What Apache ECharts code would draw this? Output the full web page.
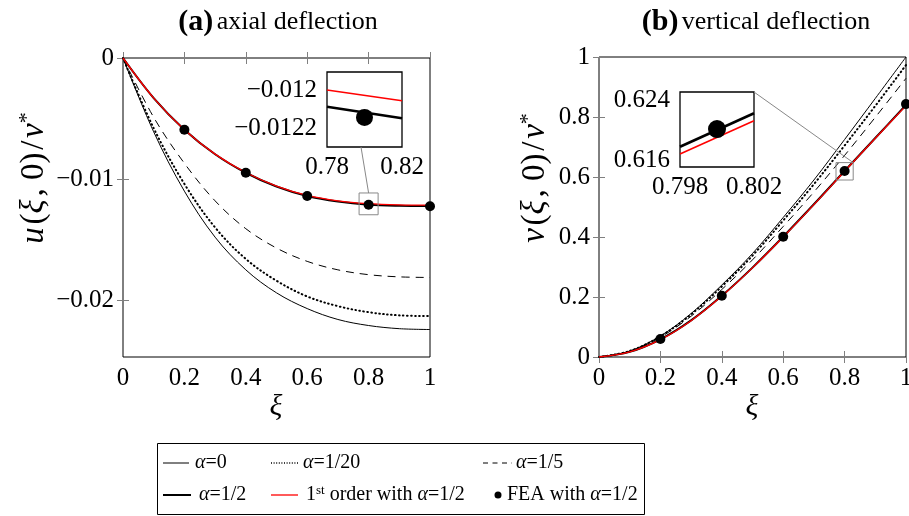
<!DOCTYPE html>
<html>
<head>
<meta charset="utf-8">
<script src="https://cdn.jsdelivr.net/npm/echarts@6/dist/echarts.min.js"></script>
<style>
    html, body { margin: 0; padding: 0; background: #fff; }
    #main { width: 909px; height: 516px; }
</style>
</head>
<body>
<div id="main"></div>
<script>
    // values
    const xiList = [0, 0.1, 0.2, 0.3, 0.4, 0.5, 0.6, 0.7, 0.8, 0.9, 1];

    // (a) axial deflection u(xi,0)/v*
    const uAlpha0  = [0, -0.0061, -0.0110, -0.0148, -0.0175, -0.0194, -0.0207, -0.0216, -0.0221, -0.02236, -0.02243];
    const uAlpha20 = [0, -0.0058, -0.0104, -0.0140, -0.0166, -0.0184, -0.0197, -0.0205, -0.0210, -0.02126, -0.02132];
    const uAlpha5  = [0, -0.0049, -0.0087, -0.0118, -0.0141, -0.0157, -0.0168, -0.0175, -0.0179, -0.01808, -0.01813];
    const uAlpha2  = [0, -0.00331, -0.00592, -0.00795, -0.00948, -0.01062, -0.0114, -0.01186, -0.01212, -0.01221, -0.01223];
    const uFirst   = [0, -0.00331, -0.00592, -0.00794, -0.00946, -0.01058, -0.01135, -0.0118, -0.01203, -0.01213, -0.01216];

    // (b) vertical deflection v(xi,0)/v*
    const vAlpha0  = [0, 0.020, 0.070, 0.145, 0.240, 0.345, 0.465, 0.590, 0.725, 0.862, 1.000];
    const vAlpha20 = [0, 0.020, 0.069, 0.142, 0.235, 0.338, 0.455, 0.576, 0.705, 0.837, 0.973];
    const vAlpha5  = [0, 0.019, 0.066, 0.136, 0.225, 0.324, 0.435, 0.550, 0.672, 0.799, 0.929];
    const vAlpha2  = [0, 0.017, 0.059, 0.122, 0.204, 0.298, 0.401, 0.509, 0.620, 0.730, 0.840];
    const vFirst   = [0, 0.017, 0.058, 0.121, 0.203, 0.297, 0.400, 0.508, 0.619, 0.729, 0.838];

    // FEA points
    const feaXi = [0.2, 0.4, 0.6, 0.8, 1];
    const feaU  = [-0.00592, -0.00948, -0.0114, -0.01213, -0.01225];
    const feaV  = [0.06, 0.204, 0.401, 0.62, 0.843];

    // zoom insets
    const zoomUXi     = [0.78, 0.82];
    const zoomUAlpha2 = [-0.012088, -0.012149];
    const zoomUFirst  = [-0.012, -0.012056];
    const zoomUFeaXi  = [0.8];
    const zoomUFea    = [-0.012144];
    const zoomVXi     = [0.798, 0.802];
    const zoomVAlpha2 = [0.61779, 0.6223];
    const zoomVFirst  = [0.61681, 0.6213];
    const zoomVFeaXi  = [0.8];
    const zoomVFea    = [0.62018];

    // tick values
    const uTicks      = [0, -0.01, -0.02];
    const zoomUTicks  = [-0.012, -0.0122];
    const zoomUXTicks = [0.78, 0.82];
    const zoomVTicks  = [0.616, 0.624];
    const zoomVXTicks = [0.798, 0.802];

    const serif = 'Liberation Serif';
    const tickColor = '#808080';

    function pairs(xs, ys) {
        return xs.map(function (x, i) { return [x, ys[i]]; });
    }
    function numLabel(v) {
        let s = String(+(+v).toFixed(6));
        return v < 0 ? '\u2212' + s.replace('-', '') : s;
    }

    function makeAxis(opt) {
        let ax = {
            type: 'value',
            gridIndex: opt.grid,
            position: opt.position,
            min: opt.min,
            max: opt.max,
            axisLine: { show: false },
            axisTick: {
                show: opt.tick !== false,
                inside: true,
                length: 6,
                lineStyle: { color: tickColor, width: 1 }
            },
            axisLabel: {
                show: !!opt.label,
                margin: opt.margin || 9,
                color: '#000',
                fontFamily: serif,
                fontSize: 25,
                showMinLabel: true,
                showMaxLabel: true,
                hideOverlap: false,
                formatter: numLabel
            },
            splitLine: { show: false }
        };
        if (opt.interval) ax.interval = opt.interval;
        if (opt.ticks) {
            ax.axisTick.customValues = opt.ticks;
            ax.axisLabel.customValues = opt.ticks;
        }
        return ax;
    }

    function lineSeries(name, xAxisIndex, yAxisIndex, xs, ys, style) {
        return {
            name: name,
            type: 'line',
            xAxisIndex: xAxisIndex,
            yAxisIndex: yAxisIndex,
            data: pairs(xs, ys),
            showSymbol: false,
            smooth: style.smooth === undefined ? 0.35 : style.smooth,
            animation: false,
            clip: true,
            lineStyle: {
                color: style.color || '#000',
                width: style.width || 1,
                type: style.type || 'solid',
                cap: style.cap || 'butt'
            },
            z: style.z || 2
        };
    }
    function dotSeries(name, xAxisIndex, yAxisIndex, xs, ys, size) {
        return {
            name: name,
            type: 'scatter',
            xAxisIndex: xAxisIndex,
            yAxisIndex: yAxisIndex,
            data: pairs(xs, ys),
            symbol: 'circle',
            symbolSize: size,
            itemStyle: { color: '#000', opacity: 1 },
            animation: false,
            z: 4
        };
    }

    const gridStyle = { show: true, borderColor: '#000', borderWidth: 1, containLabel: false, outerBoundsMode: 'none' };
    const grids = [
        Object.assign({ left: 123, top: 58, width: 307, height: 299, backgroundColor: 'transparent' }, gridStyle),
        Object.assign({ left: 599, top: 57, width: 307, height: 300, backgroundColor: 'transparent' }, gridStyle),
        Object.assign({ left: 327, top: 72, width: 75, height: 75, backgroundColor: '#fff', z: 3 }, gridStyle, { borderWidth: 1.3 }),
        Object.assign({ left: 680, top: 92, width: 74, height: 75, backgroundColor: '#fff', z: 3 }, gridStyle, { borderWidth: 1.3 })
    ];

    const xAxes = [
        makeAxis({ grid: 0, position: 'bottom', min: 0, max: 1, interval: 0.2, label: true }),
        makeAxis({ grid: 0, position: 'top', min: 0, max: 1, interval: 0.2 }),
        makeAxis({ grid: 1, position: 'bottom', min: 0, max: 1, interval: 0.2, label: true }),
        makeAxis({ grid: 1, position: 'top', min: 0, max: 1, interval: 0.2 }),
        makeAxis({ grid: 2, position: 'bottom', min: 0.78, max: 0.82, ticks: zoomUXTicks, label: true, tick: false, margin: 8 }),
        makeAxis({ grid: 3, position: 'bottom', min: 0.798, max: 0.802, ticks: zoomVXTicks, label: true, tick: false, margin: 8 })
    ];
    const yAxes = [
        makeAxis({ grid: 0, position: 'left', min: -0.0247, max: 0, ticks: uTicks, label: true }),
        makeAxis({ grid: 0, position: 'right', min: -0.0247, max: 0, ticks: uTicks }),
        makeAxis({ grid: 1, position: 'left', min: 0, max: 1, interval: 0.2, label: true }),
        makeAxis({ grid: 1, position: 'right', min: 0, max: 1, interval: 0.2 }),
        makeAxis({ grid: 2, position: 'left', min: -0.0123, max: -0.011905, ticks: zoomUTicks, label: true, margin: 10 }),
        makeAxis({ grid: 2, position: 'right', min: -0.0123, max: -0.011905, ticks: zoomUTicks }),
        makeAxis({ grid: 3, position: 'left', min: 0.61506, max: 0.62517, ticks: zoomVTicks, label: true, margin: 10 }),
        makeAxis({ grid: 3, position: 'right', min: 0.61506, max: 0.62517, ticks: zoomVTicks })
    ];

    const dotted = [0.6, 3.4];
    const dashed = [8, 6];
    const series = [
        // (a)
        lineSeries('a0', 0, 0, xiList, uAlpha0, { width: 1 }),
        lineSeries('a20', 0, 0, xiList, uAlpha20, { width: 2, type: dotted, cap: 'round' }),
        lineSeries('a5', 0, 0, xiList, uAlpha5, { width: 1, type: dashed }),
        lineSeries('a2', 0, 0, xiList, uAlpha2, { width: 2 }),
        lineSeries('first', 0, 0, xiList, uFirst, { width: 1.3, color: '#ff0000', z: 3 }),
        dotSeries('fea', 0, 0, feaXi, feaU, 10),
        // (b)
        lineSeries('a0', 2, 2, xiList, vAlpha0, { width: 1 }),
        lineSeries('a20', 2, 2, xiList, vAlpha20, { width: 2, type: dotted, cap: 'round' }),
        lineSeries('a5', 2, 2, xiList, vAlpha5, { width: 1, type: dashed }),
        lineSeries('a2', 2, 2, xiList, vAlpha2, { width: 2 }),
        lineSeries('first', 2, 2, xiList, vFirst, { width: 1.3, color: '#ff0000', z: 3 }),
        dotSeries('fea', 2, 2, feaXi, feaV, 10),
        // insets
        lineSeries('a2z', 4, 4, zoomUXi, zoomUAlpha2, { width: 2.6, smooth: false, z: 5 }),
        lineSeries('firstz', 4, 4, zoomUXi, zoomUFirst, { width: 1.6, color: '#ff0000', smooth: false, z: 5 }),
        Object.assign(dotSeries('feaz', 4, 4, zoomUFeaXi, zoomUFea, 17), { z: 6 }),
        lineSeries('a2z', 5, 6, zoomVXi, zoomVAlpha2, { width: 2.6, smooth: false, z: 5 }),
        lineSeries('firstz', 5, 6, zoomVXi, zoomVFirst, { width: 1.6, color: '#ff0000', smooth: false, z: 5 }),
        Object.assign(dotSeries('feaz', 5, 6, zoomVFeaXi, zoomVFea, 18), { z: 6 })
    ];

    const rich = {
        b: { fontFamily: serif, fontWeight: 'bold', fontSize: 30, color: '#000' },
        t: { fontFamily: serif, fontSize: 26, color: '#000' },
        i: { fontFamily: serif, fontStyle: 'italic', fontSize: 33, color: '#000' },
        n: { fontFamily: serif, fontSize: 33, color: '#000' },
        s: { fontFamily: serif, fontSize: 22, color: '#000', verticalAlign: 'top', lineHeight: 36 },
        x: { fontFamily: serif, fontStyle: 'italic', fontSize: 30, color: '#000' },
        li: { fontFamily: serif, fontStyle: 'italic', fontSize: 20, color: '#000' },
        ln: { fontFamily: serif, fontSize: 20, color: '#000' },
        ls: { fontFamily: serif, fontSize: 13, color: '#000', verticalAlign: 'top', lineHeight: 21 }
    };
    const hair = '\u200A';
    const uName = '{i|u' + hair + '}{n|(}{i|ξ' + hair + '}{n|, 0)' + hair + '/' + hair + '}{i|v}{s|*}';
    const vName = '{i|v' + hair + '}{n|(}{i|ξ' + hair + '}{n|, 0)' + hair + '/' + hair + '}{i|v}{s|*}';

    function textEl(x, y, text, align) {
        return {
            type: 'text', x: x, y: y, z: 10,
            style: { text: text, rich: rich, align: align || 'left', verticalAlign: 'middle' }
        };
    }
    function sampleLine(x1, x2, y, style) {
        return {
            type: 'line', z: 10,
            shape: { x1: x1, y1: y, x2: x2, y2: y },
            style: { stroke: style.color || '#000', lineWidth: style.width || 1, lineDash: style.dash || null, lineCap: style.cap || 'butt' }
        };
    }

    const graphics = [
        // titles
        textEl(278, 22, '{b|(a)} {t|axial deflection}', 'center'),
        textEl(756, 22, '{b|(b)} {t|vertical deflection}', 'center'),
        // axis names
        { type: 'text', x: 34, y: 178, rotation: Math.PI / 2, z: 10,
          style: { text: uName, rich: rich, align: 'center', verticalAlign: 'middle' } },
        { type: 'text', x: 535, y: 178, rotation: Math.PI / 2, z: 10,
          style: { text: vName, rich: rich, align: 'center', verticalAlign: 'middle' } },
        textEl(276, 407, '{x|ξ}', 'center'),
        textEl(752, 407, '{x|ξ}', 'center'),
        // legend box
        { type: 'rect', z: 9, shape: { x: 157.5, y: 443.5, width: 487, height: 71 }, style: { fill: '#fff', stroke: '#000', lineWidth: 1 } },
        sampleLine(163, 189, 463, { width: 1 }),
        textEl(195, 463, '{li|α}{ln|=0}'),
        sampleLine(271, 298, 463, { width: 1.4, dash: [1, 1.6] }),
        textEl(303, 463, '{li|α}{ln|=1/20}'),
        sampleLine(483, 512, 463, { width: 1, dash: [5, 4.5] }),
        textEl(516, 463, '{li|α}{ln|=1/5}'),
        sampleLine(163, 191, 495, { width: 2 }),
        textEl(199, 495, '{li|α}{ln|=1/2}'),
        sampleLine(271, 298, 495, { width: 1.3, color: '#ff0000' }),
        textEl(306, 495, '{ln|1}{ls|st}{ln| order with }{li|α}{ln|=1/2}'),
        { type: 'circle', z: 10, shape: { cx: 498, cy: 495, r: 3.5 }, style: { fill: '#000' } },
        textEl(507, 495, '{ln|FEA with }{li|α}{ln|=1/2}')
    ];

    let _option = {
        backgroundColor: '#fff',
        animation: false,
        textStyle: { fontFamily: serif },
        grid: grids,
        xAxis: xAxes,
        yAxis: yAxes,
        series: series,
        graphic: { elements: graphics }
    };

    let myChart = echarts.init(document.getElementById('main'), null, { renderer: 'canvas' });
    myChart.setOption(_option);

    // zoom markers: small boxes on the main plots and connectors to the insets
    function spyRect(gridAxis, cx, cy, hx, hy) {
        let p1 = myChart.convertToPixel(gridAxis, [cx - hx, cy + hy]);
        let p2 = myChart.convertToPixel(gridAxis, [cx + hx, cy - hy]);
        return { x: p1[0], y: p1[1], w: p2[0] - p1[0], h: p2[1] - p1[1] };
    }
    let rL = spyRect({ xAxisIndex: 0, yAxisIndex: 0 }, 0.8, -0.01205, 0.031, 0.0009);
    let rR = spyRect({ xAxisIndex: 2, yAxisIndex: 2 }, 0.8, 0.619, 0.028, 0.029);
    let gL = grids[2], gR = grids[3];
    let extra = [
        { type: 'rect', z: 8, shape: { x: rL.x, y: rL.y, width: rL.w, height: rL.h }, style: { fill: 'none', stroke: '#888', lineWidth: 1 } },
        { type: 'rect', z: 8, shape: { x: rR.x, y: rR.y, width: rR.w, height: rR.h }, style: { fill: 'none', stroke: '#888', lineWidth: 1 } },
        { type: 'line', z: 8, shape: { x1: gL.left + 34, y1: gL.top + gL.height, x2: rL.x + rL.w / 2, y2: rL.y }, style: { stroke: '#888', lineWidth: 1 } },
        { type: 'line', z: 8, shape: { x1: gR.left + gR.width, y1: gR.top, x2: rR.x + rR.w, y2: rR.y }, style: { stroke: '#888', lineWidth: 1 } }
    ];
    myChart.setOption({ graphic: { elements: graphics.concat(extra) } });
</script>
</body>
</html>
